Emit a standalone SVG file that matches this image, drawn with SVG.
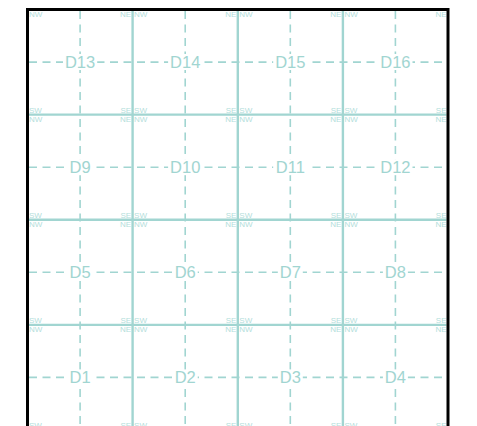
<svg xmlns="http://www.w3.org/2000/svg" width="477" height="426" viewBox="0 0 477 426">
<style>
.grid{stroke:#a1d5d1;stroke-width:2.4;fill:none}
.dash{stroke:#a1d5d1;stroke-width:1.6;stroke-dasharray:8 5.5;fill:none}
.lbl{font-family:"Liberation Sans",Arial,sans-serif;font-size:16.5px;fill:#a1d5d1;text-anchor:middle}
.bg{fill:#ffffff}
.c{font-family:"Liberation Sans",Arial,sans-serif;font-size:8px;fill:#b3dedb}
.e{text-anchor:end}
</style>
<defs>
<clipPath id="frame"><rect x="29" y="11" width="417.5" height="417.5"/></clipPath>
</defs>
<rect x="0" y="0" width="477" height="426" fill="#ffffff"/>
<g clip-path="url(#frame)">
<g id="connectors">
<line class="dash" x1="80.1" y1="11" x2="80.1" y2="430"/>
<line class="dash" x1="185.2" y1="11" x2="185.2" y2="430"/>
<line class="dash" x1="290.3" y1="11" x2="290.3" y2="430"/>
<line class="dash" x1="395.4" y1="11" x2="395.4" y2="430"/>
<line class="dash" x1="29" y1="62.1" x2="448" y2="62.1"/>
<line class="dash" x1="29" y1="167.2" x2="448" y2="167.2"/>
<line class="dash" x1="29" y1="272.3" x2="448" y2="272.3"/>
<line class="dash" x1="29" y1="377.4" x2="448" y2="377.4"/>
<line class="grid" x1="132.6" y1="9.5" x2="132.6" y2="430"/>
<line class="grid" x1="237.8" y1="9.5" x2="237.8" y2="430"/>
<line class="grid" x1="342.9" y1="9.5" x2="342.9" y2="430"/>
<line class="grid" x1="27.5" y1="114.6" x2="448" y2="114.6"/>
<line class="grid" x1="27.5" y1="219.8" x2="448" y2="219.8"/>
<line class="grid" x1="27.5" y1="324.9" x2="448" y2="324.9"/>
</g>
<g id="D13"><text class="c" x="29" y="17">NW</text><text class="c e" x="131.1" y="17">NE</text><text class="c" x="29" y="112.6">SW</text><text class="c e" x="131.1" y="112.6">SE</text><rect class="bg" x="63" y="54" width="34.2" height="16"/><text class="lbl" x="80.1" y="68">D13</text></g>
<g id="D14"><text class="c" x="134.1" y="17">NW</text><text class="c e" x="236.3" y="17">NE</text><text class="c" x="134.1" y="112.6">SW</text><text class="c e" x="236.3" y="112.6">SE</text><rect class="bg" x="168.1" y="54" width="34.2" height="16"/><text class="lbl" x="185.2" y="68">D14</text></g>
<g id="D15"><text class="c" x="239.3" y="17">NW</text><text class="c e" x="341.4" y="17">NE</text><text class="c" x="239.3" y="112.6">SW</text><text class="c e" x="341.4" y="112.6">SE</text><rect class="bg" x="273.2" y="54" width="34.2" height="16"/><text class="lbl" x="290.3" y="68">D15</text></g>
<g id="D16"><text class="c" x="344.4" y="17">NW</text><text class="c e" x="446.5" y="17">NE</text><text class="c" x="344.4" y="112.6">SW</text><text class="c e" x="446.5" y="112.6">SE</text><rect class="bg" x="378.3" y="54" width="34.2" height="16"/><text class="lbl" x="395.4" y="68">D16</text></g>
<g id="D9"><text class="c" x="29" y="122.1">NW</text><text class="c e" x="131.1" y="122.1">NE</text><text class="c" x="29" y="217.8">SW</text><text class="c e" x="131.1" y="217.8">SE</text><rect class="bg" x="67.6" y="159.2" width="25" height="16"/><text class="lbl" x="80.1" y="173.1">D9</text></g>
<g id="D10"><text class="c" x="134.1" y="122.1">NW</text><text class="c e" x="236.3" y="122.1">NE</text><text class="c" x="134.1" y="217.8">SW</text><text class="c e" x="236.3" y="217.8">SE</text><rect class="bg" x="168.1" y="159.2" width="34.2" height="16"/><text class="lbl" x="185.2" y="173.1">D10</text></g>
<g id="D11"><text class="c" x="239.3" y="122.1">NW</text><text class="c e" x="341.4" y="122.1">NE</text><text class="c" x="239.3" y="217.8">SW</text><text class="c e" x="341.4" y="217.8">SE</text><rect class="bg" x="273.2" y="159.2" width="34.2" height="16"/><text class="lbl" x="290.3" y="173.1">D11</text></g>
<g id="D12"><text class="c" x="344.4" y="122.1">NW</text><text class="c e" x="446.5" y="122.1">NE</text><text class="c" x="344.4" y="217.8">SW</text><text class="c e" x="446.5" y="217.8">SE</text><rect class="bg" x="378.3" y="159.2" width="34.2" height="16"/><text class="lbl" x="395.4" y="173.1">D12</text></g>
<g id="D5"><text class="c" x="29" y="227.3">NW</text><text class="c e" x="131.1" y="227.3">NE</text><text class="c" x="29" y="322.9">SW</text><text class="c e" x="131.1" y="322.9">SE</text><rect class="bg" x="67.6" y="264.3" width="25" height="16"/><text class="lbl" x="80.1" y="278.2">D5</text></g>
<g id="D6"><text class="c" x="134.1" y="227.3">NW</text><text class="c e" x="236.3" y="227.3">NE</text><text class="c" x="134.1" y="322.9">SW</text><text class="c e" x="236.3" y="322.9">SE</text><rect class="bg" x="172.7" y="264.3" width="25" height="16"/><text class="lbl" x="185.2" y="278.2">D6</text></g>
<g id="D7"><text class="c" x="239.3" y="227.3">NW</text><text class="c e" x="341.4" y="227.3">NE</text><text class="c" x="239.3" y="322.9">SW</text><text class="c e" x="341.4" y="322.9">SE</text><rect class="bg" x="277.8" y="264.3" width="25" height="16"/><text class="lbl" x="290.3" y="278.2">D7</text></g>
<g id="D8"><text class="c" x="344.4" y="227.3">NW</text><text class="c e" x="446.5" y="227.3">NE</text><text class="c" x="344.4" y="322.9">SW</text><text class="c e" x="446.5" y="322.9">SE</text><rect class="bg" x="382.9" y="264.3" width="25" height="16"/><text class="lbl" x="395.4" y="278.2">D8</text></g>
<g id="D1"><text class="c" x="29" y="332.4">NW</text><text class="c e" x="131.1" y="332.4">NE</text><text class="c" x="29" y="428">SW</text><text class="c e" x="131.1" y="428">SE</text><rect class="bg" x="67.6" y="369.4" width="25" height="16"/><text class="lbl" x="80.1" y="383.3">D1</text></g>
<g id="D2"><text class="c" x="134.1" y="332.4">NW</text><text class="c e" x="236.3" y="332.4">NE</text><text class="c" x="134.1" y="428">SW</text><text class="c e" x="236.3" y="428">SE</text><rect class="bg" x="172.7" y="369.4" width="25" height="16"/><text class="lbl" x="185.2" y="383.3">D2</text></g>
<g id="D3"><text class="c" x="239.3" y="332.4">NW</text><text class="c e" x="341.4" y="332.4">NE</text><text class="c" x="239.3" y="428">SW</text><text class="c e" x="341.4" y="428">SE</text><rect class="bg" x="277.8" y="369.4" width="25" height="16"/><text class="lbl" x="290.3" y="383.3">D3</text></g>
<g id="D4"><text class="c" x="344.4" y="332.4">NW</text><text class="c e" x="446.5" y="332.4">NE</text><text class="c" x="344.4" y="428">SW</text><text class="c e" x="446.5" y="428">SE</text><rect class="bg" x="382.9" y="369.4" width="25" height="16"/><text class="lbl" x="395.4" y="383.3">D4</text></g>
</g>
<rect x="27.5" y="9.5" width="420.5" height="420.5" fill="none" stroke="#000000" stroke-width="3"/>
</svg>
